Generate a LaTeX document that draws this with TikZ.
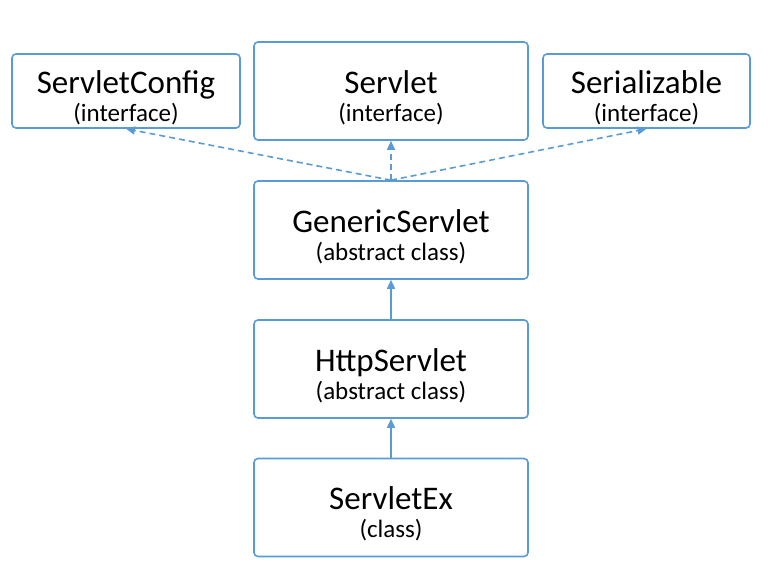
\documentclass[tikz,border=0pt]{standalone}
\usepackage{fontspec}
\setmainfont{Carlito}
\usetikzlibrary{arrows.meta, positioning}
\definecolor{umlblue}{HTML}{5B9BD5}
\tikzset{
    cls/.style={rectangle, rounded corners=4pt, draw=umlblue, line width=1.6pt, fill=white,
        align=center, minimum width=274pt, minimum height=98pt, inner sep=0pt,
        font=\fontsize{25}{28}\selectfont},
    iface/.style={cls, minimum height=74pt},
    arr/.style={-{Triangle[length=9pt, width=8pt]}, umlblue, line width=1.6pt},
    impl/.style={arr, dash pattern=on 6pt off 4pt},
}
\newcommand{\clsname}[1]{{\fontsize{33}{28}\selectfont\rule{0pt}{36pt}#1}}

\begin{document}
\begin{tikzpicture}[x=1pt, y=1pt]
\useasboundingbox (0, 0) rectangle (778, 586);

% ── interfaces ──
\node[iface, minimum width=228pt] (config) at (126, 495) {\clsname{ServletConfig}\\(interface)};
\node[cls] (servlet) at (391, 495) {\clsname{Servlet}\\(interface)};
\node[iface, minimum width=207pt] (serial) at (646.5, 495) {\clsname{Serializable}\\(interface)};

% ── classes ──
\node[cls] (generic) at (391, 356) {\clsname{GenericServlet}\\(abstract class)};
\node[cls] (http) at (391, 217) {\clsname{HttpServlet}\\(abstract class)};
\node[cls] (ex) at (391, 78.5) {\clsname{ServletEx}\\(class)};

% ── implements ──
\draw[impl] (generic.north) -- (config.south);
\draw[impl] (generic.north) -- (servlet.south);
\draw[impl] (generic.north) -- (serial.south);

% ── extends ──
\draw[arr] (http) -- (generic);
\draw[arr] (ex) -- (http);

\end{tikzpicture}
\end{document}
